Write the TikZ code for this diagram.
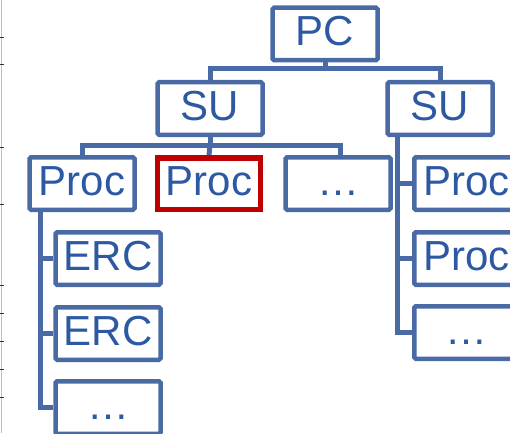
\documentclass[tikz,border=0pt]{standalone}
\usepackage{fontspec}
\setmainfont{Liberation Sans}
\usepackage{xcolor}
\usepackage{tikz}
\usetikzlibrary{positioning,calc}
\definecolor{boxc}{HTML}{4A6AA5}
\definecolor{txtc}{HTML}{2D59A3}
\definecolor{selr}{HTML}{C00000}
\definecolor{axg}{HTML}{BDBDBD}
\tikzset{
  box/.style  ={draw=boxc, fill=white, line width=4.5pt, rounded corners=1.5pt,
                minimum width=105pt, minimum height=52.5pt, inner sep=0pt,
                text=txtc, text height=28pt, text depth=5pt,
                font=\fontsize{42pt}{48pt}\selectfont},
  sel/.style  ={box, draw=selr, line width=5.5pt, rounded corners=0pt,
                minimum width=103pt, minimum height=51.5pt},
  conn/.style ={draw=boxc, line width=5pt},
  axl/.style  ={draw=axg, line width=.8pt},
  tck/.style  ={draw=black!80, line width=1pt},
}
\begin{document}
\begin{tikzpicture}[x=1pt,y=-1pt]
  \clip (0,0) rectangle (510,433);
  % --- cut-off axis at the left edge ---
  \draw[axl] (1,0) coordinate(ax0) -- (1,433) coordinate(ax1);
  \foreach \t in {38,65,147,204,285,313,341,369,397}
     \draw[tck] (0,\t) -- (3.5,\t);
  % --- top levels ---
  \node[box](pc) at (325,34){PC};
  \node[box](su1) at (210,108.5){SU};
  \node[box](su2) at (440,108.5){SU};
  % --- processors under the left SU ---
  \node[box](p1) at (82,183.5){Proc};
  \node[sel,right=18pt of p1](p2){Proc};
  \node[box,right=20pt of p2](d1){\ldots};
  % --- ERCs under the first processor ---
  \node[box,below=18pt of p1,xshift=26pt](e1){ERC};
  \node[box,below=18pt of e1](e2){ERC};
  \node[box,below=17pt of e2](ed){\ldots};
  % --- processors under the right SU ---
  \node[box](rp1) at (466.75,183.5){Proc};
  \node[box,below=18pt of rp1](rp2){Proc};
  \node[box,below=17pt of rp2](rd){\ldots};
  % org-chart connectors
  \draw[conn] (pc.south) -- ++(0,6) coordinate(pcb);
  \draw[conn] (su1.north) |- (pcb) -| (su2.north);
  \draw[conn] (su1.south) -- ++(0,8) coordinate(sub);
  \draw[conn] (p1.north) |- (sub) -| ($(d1.north)+(2.5,0)$);
  \draw[conn] (sub) -- (p2.north);
  \coordinate (pv) at ($(p1.south west)+(13,0)$);
  \foreach \c in {e1,e2,ed}
     \draw[conn] (pv) |- (\c.west);
  \coordinate (sv) at ($(su2.south west)+(12,0)$);
  \foreach \c in {rp1,rp2,rd}
     \draw[conn] (sv) |- (\c.west);
\end{tikzpicture}
\end{document}
